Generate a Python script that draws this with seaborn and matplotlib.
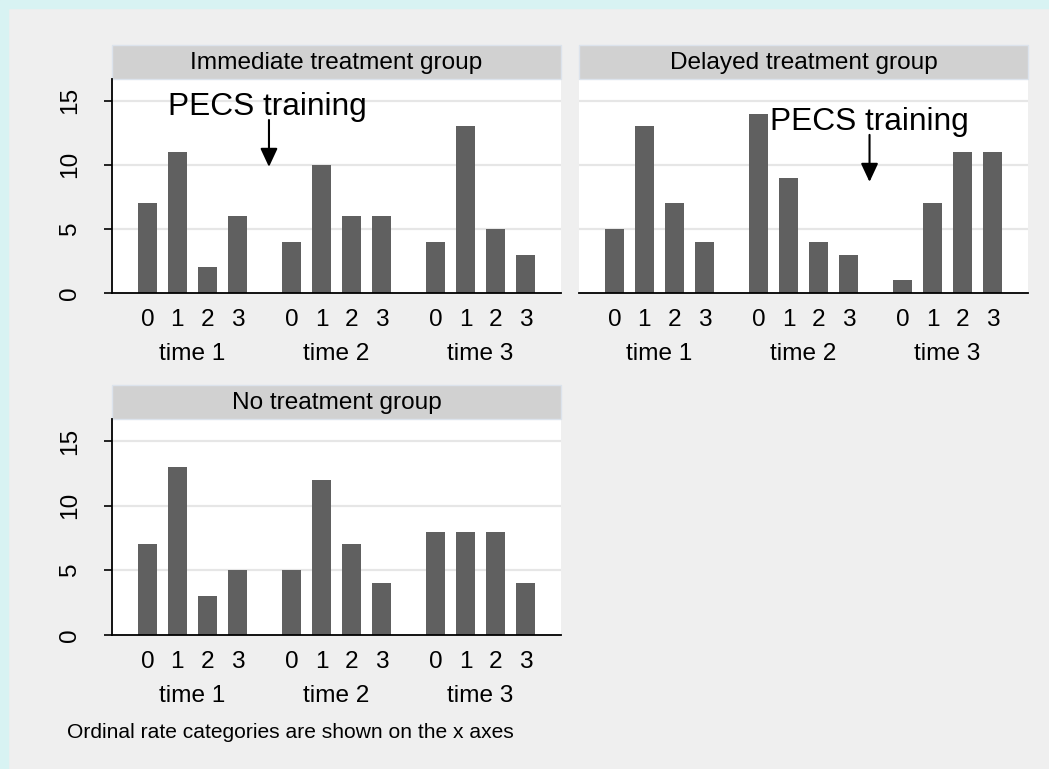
import numpy as np
import pandas as pd
import matplotlib
matplotlib.use("Agg")
import matplotlib.pyplot as plt
import matplotlib.transforms as mtransforms
from matplotlib.patches import Rectangle
import seaborn as sns

# counts per ordinal rate category (0-3), three time points per group
groups = ["Immediate treatment group", "Delayed treatment group", "No treatment group"]
times = ["time 1", "time 2", "time 3"]
categories = [0, 1, 2, 3]

immediate = [[7, 11, 2, 6], [4, 10, 6, 6], [4, 13, 5, 3]]
delayed = [[5, 13, 7, 4], [14, 9, 4, 3], [1, 7, 11, 11]]
no_treat = [[7, 13, 3, 5], [5, 12, 7, 4], [8, 8, 8, 4]]
counts = [immediate, delayed, no_treat]

note = "Ordinal rate categories are shown on the x axes"
yticks = [0, 5, 10, 15]

group_step = 4.8  # spacing between time blocks, in bar slots

rows = []
for g, name in enumerate(groups):
    for t, tname in enumerate(times):
        for c in categories:
            rows.append({"group": name, "time": tname, "cat": c,
                         "pos": t * group_step + c, "count": counts[g][t][c]})
df = pd.DataFrame(rows)

sns.set_style("white")
plt.rcParams["font.family"] = ["Liberation Sans", "DejaVu Sans"]
plt.rcParams["text.color"] = "black"
plt.rcParams["xtick.color"] = "black"
plt.rcParams["ytick.color"] = "black"

W, H = 1049, 769
fig = plt.figure(figsize=(W / 100, H / 100), dpi=100)
fig.patch.set_facecolor("#efefef")
# cyan frame along top and left
fig.patches.append(Rectangle((0, 0), 8 / W, 1, transform=fig.transFigure, color="#d8f3f3", zorder=0))
fig.patches.append(Rectangle((0, 1 - 8 / H), 1, 8 / H, transform=fig.transFigure, color="#d8f3f3", zorder=0))

# panel boxes in pixels: left, top, right, bottom (plot region)
boxes = [(112, 79, 561, 293), (579, 79, 1028, 293), (112, 419, 561, 635)]

bar_color = "#606060"
fs = 17.6

for g, name in enumerate(groups):
    l, t, r, b = boxes[g]
    ax = fig.add_axes([l / W, 1 - b / H, (r - l) / W, (b - t) / H])
    sub = df[df.group == name]
    sns.barplot(data=sub, x="pos", y="count", native_scale=True, width=0.63,
                color=bar_color, saturation=1, linewidth=0, errorbar=None, ax=ax)
    ax.set_facecolor("white")
    ax.set_xlim(-1.18, 2 * group_step + 3 + 1.18)
    ax.set_ylim(0, 16.7)
    ax.set_xlabel("")
    ax.set_ylabel("")

    ax.set_axisbelow(True)
    for v in yticks[1:]:
        ax.axhline(v, color="#e6e6e6", lw=1.6, zorder=0)

    ax.set_xticks(sub["pos"].values)
    ax.set_xticklabels([str(c) for c in sub["cat"].values], fontsize=fs)
    ax.tick_params(axis="x", length=0, pad=11.5)

    for s in ["top", "right"]:
        ax.spines[s].set_visible(False)
    ax.spines["bottom"].set_color("black")
    ax.spines["bottom"].set_linewidth(1.3)
    if g == 1:
        ax.spines["left"].set_visible(False)
        ax.set_yticks([])
    else:
        ax.spines["left"].set_color("black")
        ax.spines["left"].set_linewidth(1.3)
        ax.set_yticks(yticks)
        ax.set_yticklabels([str(v) for v in yticks], fontsize=fs, rotation=90, va="center")
        ax.tick_params(axis="y", length=6, width=1.2, color="black", pad=16.5, left=True)

    trans = mtransforms.blended_transform_factory(ax.transData, ax.transAxes)
    hpx = b - t
    for ti, tname in enumerate(times):
        ax.text(ti * group_step + 1.5, -61 / hpx, tname, transform=trans,
                ha="center", va="center", fontsize=fs)

    # header strip
    ax.add_patch(Rectangle((0, 1), 1, 34 / hpx, transform=ax.transAxes, clip_on=False,
                           facecolor="#d1d1d1", edgecolor="#dce3ec", lw=1))
    ax.text(0.5, 1 + 16 / hpx, name, transform=ax.transAxes, ha="center", va="center",
            fontsize=fs)

    if g == 0:
        ax.text(0.68, 13.9, "PECS training", fontsize=22.8, ha="left", va="baseline")
        ax.annotate("", xy=(4.05, 9.84), xytext=(4.05, 13.5),
                    arrowprops=dict(arrowstyle="-|>,head_width=0.35,head_length=0.75",
                                    color="black", lw=1.5, mutation_scale=15, shrinkA=0, shrinkB=0))
    elif g == 1:
        ax.text(5.17, 12.73, "PECS training", fontsize=22.8, ha="left", va="baseline")
        ax.annotate("", xy=(8.5, 8.67), xytext=(8.5, 12.34),
                    arrowprops=dict(arrowstyle="-|>,head_width=0.35,head_length=0.75",
                                    color="black", lw=1.5, mutation_scale=15, shrinkA=0, shrinkB=0))

fig.text(67 / W, 1 - 733 / H, note, ha="left", va="center", fontsize=15.1)

fig.savefig("out.png", dpi=100, facecolor=fig.get_facecolor())
